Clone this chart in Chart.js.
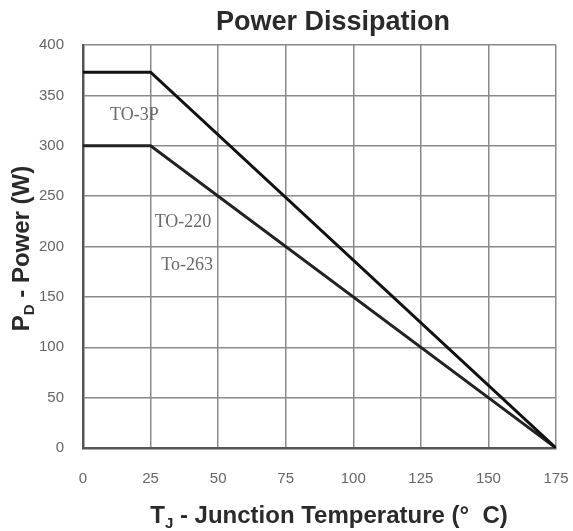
<!DOCTYPE html>
<html>
<head>
<meta charset="utf-8">
<script src="https://cdn.jsdelivr.net/npm/chart.js@4.4.1/dist/chart.umd.min.js"></script>
<style>
  html, body { margin: 0; padding: 0; background: #fff; }
  #wrap { width: 573px; height: 531px; }
</style>
</head>
<body>
<div id="wrap"><canvas id="pd"></canvas></div>
<script>
// data
const tempPoints = [0, 25, 175];
const to3pPower = [373, 373, 0];
const to220Power = [300, 300, 0];
const xTicks = [0, 25, 50, 75, 100, 125, 150, 175];
const yTicks = [0, 50, 100, 150, 200, 250, 300, 350, 400];

// package labels (data coords)
const pkgLabels = [
    { text: "TO-3P", x: 19, y: 330 },
    { text: "TO-220", x: 37, y: 224 },
    { text: "To-263", x: 38.5, y: 181 }
];

const toXY = (xs, ys) => xs.map((x, i) => ({ x: x, y: ys[i] }));
const SANS = '"Liberation Sans", Arial, sans-serif';

// draws the title, axis titles (with subscripts) and the package labels
const textPlugin = {
    id: 'textPlugin',
    afterDraw(chart) {
        const ctx = chart.ctx;
        const area = chart.chartArea;
        const xs = chart.scales.x, ys = chart.scales.y;

        ctx.save();
        ctx.fillStyle = '#2a2a2a';
        ctx.font = 'bold 27px ' + SANS;
        ctx.textAlign = 'center';
        ctx.textBaseline = 'middle';
        ctx.fillText('Power Dissipation', 333, 23);
        ctx.restore();

        ctx.save();
        ctx.fillStyle = '#6a6a6a';
        ctx.font = '18px "Liberation Serif", serif';
        ctx.textAlign = 'center';
        ctx.textBaseline = 'middle';
        pkgLabels.forEach(l => {
            ctx.fillText(l.text, xs.getPixelForValue(l.x), ys.getPixelForValue(l.y));
        });
        ctx.restore();

        const big = 'bold 24px ' + SANS;
        const small = 'bold 15px ' + SANS;

        // x title: T_J - Junction Temperature (°  C)
        ctx.save();
        ctx.fillStyle = '#2a2a2a';
        ctx.textBaseline = 'alphabetic';
        const rest = ' - Junction Temperature (\u00B0  C)';
        ctx.font = big; const wT = ctx.measureText('T').width; const wR = ctx.measureText(rest).width;
        ctx.font = small; const wJ = ctx.measureText('J').width;
        let x0 = 329 - (wT + wJ + wR) / 2;
        const yb = 523;
        ctx.font = big; ctx.fillText('T', x0, yb);
        ctx.font = small; ctx.fillText('J', x0 + wT, yb + 5);
        ctx.font = big; ctx.fillText(rest, x0 + wT + wJ, yb);
        ctx.restore();

        // y title: P_D - Power (W)
        ctx.save();
        ctx.fillStyle = '#2a2a2a';
        ctx.translate(29, (area.top + area.bottom) / 2 + 2);
        ctx.rotate(-Math.PI / 2);
        ctx.textBaseline = 'alphabetic';
        const restY = ' - Power (W)';
        ctx.font = big; const wP = ctx.measureText('P').width; const wRY = ctx.measureText(restY).width;
        ctx.font = small; const wD = ctx.measureText('D').width;
        let y0 = -(wP + wD + wRY) / 2;
        ctx.font = big; ctx.fillText('P', y0, 0);
        ctx.font = small; ctx.fillText('D', y0 + wP, 5);
        ctx.font = big; ctx.fillText(restY, y0 + wP + wD, 0);
        ctx.restore();
    }
};

new Chart(document.getElementById('pd').getContext('2d'), {
    type: 'scatter',
    data: {
        datasets: [
            {
                label: 'TO-3P',
                data: toXY(tempPoints, to3pPower),
                showLine: true,
                borderColor: '#111',
                borderWidth: 3,
                pointRadius: 0,
                tension: 0
            },
            {
                label: 'TO-220 / To-263',
                data: toXY(tempPoints, to220Power),
                showLine: true,
                borderColor: '#222',
                borderWidth: 3,
                pointRadius: 0,
                tension: 0
            }
        ]
    },
    options: {
        responsive: true,
        maintainAspectRatio: false,
        animation: false,
        layout: { padding: { left: 0, right: 17, top: 45, bottom: 0 } },
        plugins: {
            legend: { display: false },
            tooltip: { enabled: false },
            title: { display: false }
        },
        scales: {
            x: {
                type: 'linear',
                min: 0,
                max: 175,
                afterBuildTicks: s => { s.ticks = xTicks.map(v => ({ value: v })); },
                afterFit: s => { s.height = 83; s.paddingLeft = 0; s.paddingRight = 0; },
                ticks: {
                    color: '#666',
                    padding: 22,
                    font: { family: SANS, size: 15 }
                },
                grid: { color: '#8a8a8a', lineWidth: 1.5, drawTicks: false },
                border: { color: '#555', width: 2.5 }
            },
            y: {
                min: 0,
                max: 400,
                afterBuildTicks: s => { s.ticks = yTicks.map(v => ({ value: v })); },
                afterFit: s => { s.width = 83; s.paddingTop = 0; s.paddingBottom = 0; },
                ticks: {
                    color: '#666',
                    padding: 19,
                    font: { family: SANS, size: 15 }
                },
                grid: { color: '#8a8a8a', lineWidth: 1.5, drawTicks: false },
                border: { color: '#555', width: 2.5 }
            }
        }
    },
    plugins: [textPlugin]
});
</script>
</body>
</html>
